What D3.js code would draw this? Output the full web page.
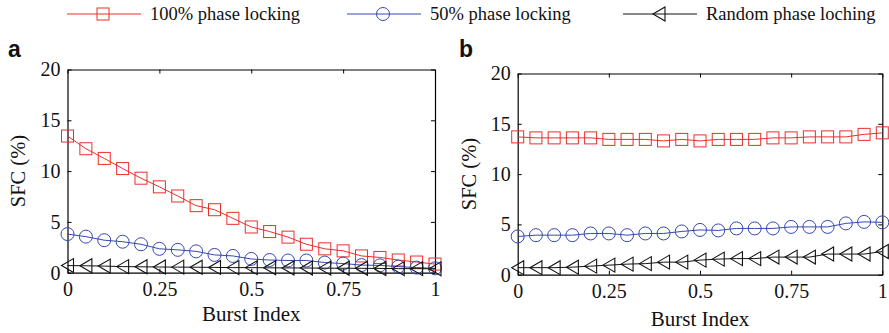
<!DOCTYPE html>
<html>
<head>
<meta charset="utf-8">
<script src="https://cdn.jsdelivr.net/npm/d3@7"></script>
<style>
  body { margin: 0; background: #fff; }
  svg text { font-family: "Liberation Serif", "Times New Roman", serif; }
</style>
</head>
<body>
<svg id="chart" width="889" height="333"></svg>
<script>
// ── data ──
const burstIndex = d3.range(21).map(i => i / 20);   // 0, 0.05, ... 1
const xTicks = [0, 0.25, 0.5, 0.75, 1];
const yTicks = [0, 5, 10, 15, 20];

const seriesNames = ["100% phase locking", "50% phase locking", "Random phase loching"];

const aFull   = [13.45, 12.2, 11.25, 10.25, 9.3, 8.45, 7.55, 6.6, 6.2, 5.35, 4.5, 4.05, 3.5, 2.8, 2.35, 2.15, 1.65, 1.5, 1.25, 1.05, 0.85];
const aHalf   = [3.8, 3.55, 3.2, 3.05, 2.8, 2.35, 2.25, 2.1, 1.75, 1.65, 1.35, 1.25, 1.2, 1.2, 1.0, 0.9, 0.75, 0.72, 0.6, 0.5, 0.43];
const aRandom = [0.7, 0.68, 0.65, 0.6, 0.58, 0.56, 0.55, 0.54, 0.52, 0.5, 0.5, 0.48, 0.47, 0.46, 0.45, 0.44, 0.43, 0.42, 0.4, 0.4, 0.38];

const bFull   = [13.7, 13.6, 13.6, 13.6, 13.6, 13.45, 13.45, 13.45, 13.3, 13.45, 13.3, 13.45, 13.45, 13.45, 13.6, 13.6, 13.7, 13.7, 13.7, 13.95, 14.1];
const bHalf   = [3.8, 3.93, 3.93, 3.93, 4.1, 4.1, 3.93, 4.1, 4.1, 4.3, 4.45, 4.4, 4.6, 4.6, 4.6, 4.75, 4.75, 4.75, 5.1, 5.25, 5.2];
const bRandom = [0.7, 0.7, 0.7, 0.75, 0.85, 0.95, 1.05, 1.1, 1.25, 1.25, 1.45, 1.55, 1.6, 1.6, 1.75, 1.75, 1.75, 2.05, 2.05, 2.05, 2.3];

const colors = ["#e8302a", "#3548b0", "#111"];
const symbols = ["square", "circle", "triangle"];

const svg = d3.select("#chart");

// marker drawing
function marker(g, type, color) {
  if (type === "square") {
    g.append("rect").attr("x", -6).attr("y", -6).attr("width", 12).attr("height", 12)
      .attr("fill", "none").attr("stroke", color).attr("stroke-width", 1);
  } else if (type === "circle") {
    g.append("circle").attr("r", 6.5).attr("fill", "none").attr("stroke", color).attr("stroke-width", 1);
  } else {
    g.append("path").attr("d", "M-6,0L6,-7L6,7Z")
      .attr("fill", "none").attr("stroke", color).attr("stroke-width", 1.1);
  }
}

// ── panels ──
function panel(p) {
  const x = d3.scaleLinear().domain([0, 1]).range([p.left, p.right]);
  const y = d3.scaleLinear().domain([0, 20]).range([p.bottom, p.top]);

  const g = svg.append("g");

  // axes box with inner ticks on all sides
  g.append("g").attr("transform", `translate(0,${p.bottom})`)
    .call(d3.axisBottom(x).tickValues(xTicks).tickSizeInner(-4).tickSizeOuter(0).tickPadding(9)
      .tickFormat(d => String(d)));
  g.append("g").attr("transform", `translate(0,${p.top})`)
    .call(d3.axisTop(x).tickValues(xTicks).tickSizeInner(-4).tickSizeOuter(0).tickFormat(""));
  g.append("g").attr("transform", `translate(${p.left},0)`)
    .call(d3.axisLeft(y).tickValues(yTicks).tickSizeInner(-4).tickSizeOuter(0).tickPadding(7));
  g.append("g").attr("transform", `translate(${p.right},0)`)
    .call(d3.axisRight(y).tickValues(yTicks).tickSizeInner(-4).tickSizeOuter(0).tickFormat(""));

  g.selectAll(".domain").attr("stroke", "#000").attr("stroke-width", 1.2);
  g.selectAll(".tick line").attr("stroke", "#000");
  g.selectAll(".tick text").attr("font-size", "20px").attr("fill", "#111")
    .style("font-family", "'Liberation Serif', serif");

  // series
  const line = d3.line().x((d, i) => x(burstIndex[i])).y(d => y(d));
  p.series.forEach((vals, s) => {
    g.append("path").datum(vals).attr("d", line)
      .attr("fill", "none").attr("stroke", colors[s]).attr("stroke-width", 1);
    vals.forEach((v, i) => {
      const m = g.append("g").attr("transform", `translate(${x(burstIndex[i])},${y(v)})`);
      marker(m, symbols[s], colors[s]);
    });
  });

  // labels
  g.append("text").attr("x", (p.left + p.right) / 2).attr("y", p.xLabelY)
    .attr("text-anchor", "middle").attr("font-size", "21px").attr("fill", "#111").text("Burst Index");
  g.append("text").attr("transform", `translate(${p.yLabelX},${(p.top + p.bottom) / 2}) rotate(-90)`)
    .attr("text-anchor", "middle").attr("font-size", "20.5px").attr("fill", "#111").text("SFC (%)");
  g.append("text").attr("x", p.letterX).attr("y", 57)
    .attr("font-size", "23px").attr("font-weight", "bold").attr("fill", "#111")
    .style("font-family", "'Liberation Sans', Arial, sans-serif").text(p.letter);
}

panel({ left: 67.5, right: 435, top: 69.5, bottom: 272.7, xLabelY: 321, yLabelX: 25,
        letter: "a", letterX: 8, series: [aFull, aHalf, aRandom] });
panel({ left: 517.7, right: 882.3, top: 73.5, bottom: 274.7, xLabelY: 326, yLabelX: 476,
        letter: "b", letterX: 459, series: [bFull, bHalf, bRandom] });

// ── legend ──
const legendX = [67, 347, 623];
seriesNames.forEach((name, s) => {
  const lg = svg.append("g").attr("transform", `translate(${legendX[s]},14)`);
  lg.append("line").attr("x1", 0).attr("x2", 74).attr("y1", 0).attr("y2", 0)
    .attr("stroke", colors[s]).attr("stroke-width", 1);
  const m = lg.append("g").attr("transform", "translate(36,0)");
  marker(m, symbols[s], colors[s]);
  lg.append("text").attr("x", 83).attr("y", 6).attr("font-size", "18.5px").attr("fill", "#111").text(name);
});
</script>
</body>
</html>
